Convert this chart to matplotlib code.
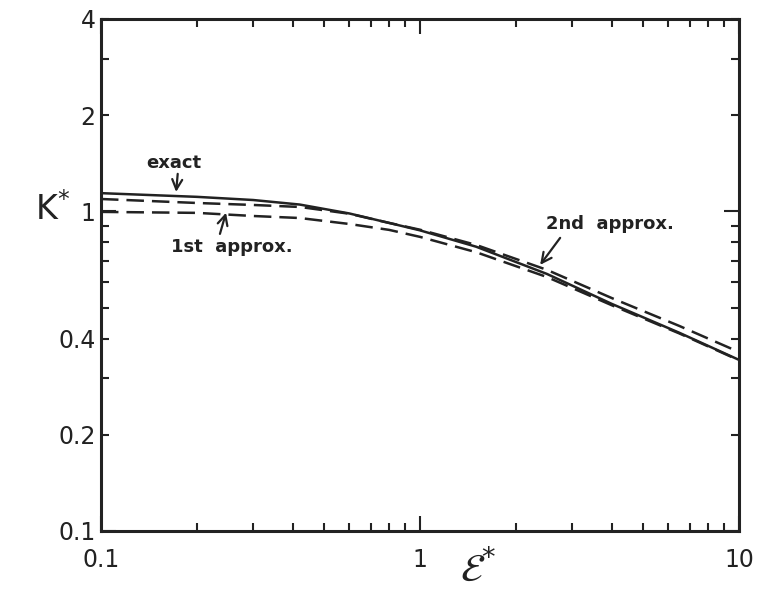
import matplotlib
matplotlib.use('Agg')
import matplotlib.pyplot as plt
from matplotlib.ticker import FixedLocator, FuncFormatter, NullFormatter

# Data
eps = [0.1, 0.2, 0.3, 0.42, 0.6, 0.8, 1.0, 1.5, 2.5, 4.0, 6.5, 10.0]
k_exact = [1.14, 1.11, 1.085, 1.05, 0.985, 0.92, 0.872, 0.775, 0.637, 0.513, 0.417, 0.343]
k_1st = [0.996, 0.989, 0.967, 0.953, 0.913, 0.875, 0.832, 0.745, 0.623, 0.508, 0.415, 0.342]
k_2nd = [1.093, 1.062, 1.047, 1.032, 0.983, 0.92, 0.876, 0.785, 0.656, 0.535, 0.438, 0.363]

y_labelled = [0.1, 0.2, 0.4, 1, 2, 4]
ink = '#222222'

fig = plt.figure(figsize=(7.69, 5.90), dpi=100)
ax = fig.add_axes([0.1313, 0.1, 0.8297, 0.868])
ax.set_xscale('log')
ax.set_yscale('log')

ax.plot(eps, k_exact, color=ink, lw=1.8, solid_capstyle='butt')
ax.plot(eps, k_1st, color=ink, lw=1.8, dashes=(7, 3.2))
ax.plot(eps, k_2nd, color=ink, lw=1.8, dashes=(7, 3.2))

ax.set_xlim(0.1, 10)
ax.set_ylim(0.1, 4)

# ticks: long at decades, short elsewhere, inward on all sides
ax.xaxis.set_major_locator(FixedLocator([0.1, 1, 10]))
ax.xaxis.set_minor_locator(FixedLocator([m * d for d in (0.1, 1) for m in range(2, 10)]))
ax.yaxis.set_major_locator(FixedLocator([0.1, 1, 10]))
ax.yaxis.set_minor_locator(FixedLocator([m * 0.1 for m in range(2, 10)] + [2, 3, 4]))

fmt = FuncFormatter(lambda v, p: ('%g' % v) if any(abs(v - t) < 1e-9 for t in y_labelled) else '')
ax.xaxis.set_major_formatter(FuncFormatter(lambda v, p: '%g' % v))
ax.xaxis.set_minor_formatter(NullFormatter())
ax.yaxis.set_major_formatter(fmt)
ax.yaxis.set_minor_formatter(fmt)

ax.tick_params(which='both', direction='in', top=True, right=True, color=ink, width=1.5)
ax.tick_params(which='major', length=11)
ax.tick_params(which='minor', length=6)
ax.tick_params(axis='x', which='both', pad=12, labelsize=17, labelcolor=ink)
ax.tick_params(axis='y', which='both', pad=4, labelsize=17, labelcolor=ink)

for s in ax.spines.values():
    s.set_linewidth(2.2)
    s.set_color(ink)

# axis labels
fig.text(53 / 769, 1 - 210 / 590, r'K$^{*}$', fontsize=24, color=ink, ha='center', va='center')
fig.text(478 / 769, 1 - 570 / 590, r'$\mathcal{E}^{*}$', fontsize=28, color=ink, ha='center', va='center')

# curve annotations
arrow = dict(arrowstyle='->', lw=1.6, color=ink, mutation_scale=18, shrinkA=0, shrinkB=0)

ax.text(0.169, 1.417, 'exact', fontsize=13, fontweight='bold', color=ink, ha='center', va='center')
ax.annotate('', xy=(0.172, 1.15), xytext=(0.174, 1.31), arrowprops=arrow)

ax.text(0.257, 0.774, '1st  approx.', fontsize=13, fontweight='bold', color=ink, ha='center', va='center')
ax.annotate('', xy=(0.2466, 0.99), xytext=(0.236, 0.85), arrowprops=arrow)

ax.text(3.95, 0.913, '2nd  approx.', fontsize=13, fontweight='bold', color=ink, ha='center', va='center')
ax.annotate('', xy=(2.38, 0.68), xytext=(2.75, 0.826), arrowprops=arrow)

fig.savefig('out.png', dpi=100, facecolor='white')
